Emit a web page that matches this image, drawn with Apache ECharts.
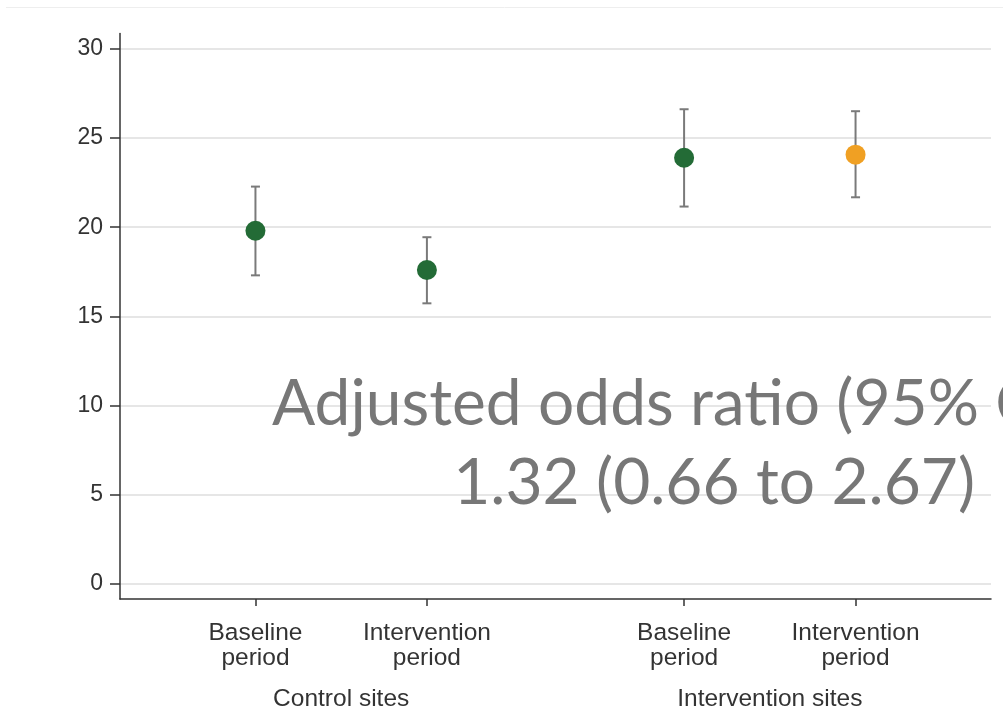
<!DOCTYPE html>
<html>
<head>
<meta charset="utf-8">
<script src="https://cdn.jsdelivr.net/npm/echarts@6/dist/echarts.min.js"></script>
<style>
  html, body { margin: 0; padding: 0; background: #ffffff; }
  #chart { width: 1003px; height: 721px; }
</style>
</head>
<body>
<div id="chart"></div>
<script>
// Period labels under each tick, and the site group under each pair
const periods = ['Baseline\nperiod', 'Intervention\nperiod', 'Baseline\nperiod', 'Intervention\nperiod'];
const periodPos = [1, 2, 3.5, 4.5];
const groups = ['Control sites', 'Intervention sites'];
const groupPos = [1.5, 4];

// Estimates with 95% confidence limits
const estimate = [19.8, 17.6, 23.9, 24.07];
const lower = [17.3, 15.73, 21.16, 21.68];
const upper = [22.28, 19.44, 26.62, 26.51];

const yTicks = [0, 5, 10, 15, 20, 25, 30];
const noteLine1 = 'Adjusted odds ratio (95% CI)';
const noteLine2 = '1.32 (0.66 to 2.67)';

const GREEN = '#236b36';
const ORANGE = '#f0a023';
const pointColors = [GREEN, GREEN, GREEN, ORANGE];

const chart = echarts.init(document.getElementById('chart'), null, { renderer: 'canvas' });

const labelFont = 'Liberation Sans, Arial, Helvetica, sans-serif';

const pointData = periodPos.map((x, i) => ({
  value: [x, estimate[i]],
  itemStyle: { color: pointColors[i] }
}));
const barData = periodPos.map((x, i) => [x, lower[i], upper[i]]);

const option = {
  animation: false,
  backgroundColor: '#ffffff',
  grid: { left: 120, right: 12, top: 33.5, bottom: 122 },
  xAxis: [
    {
      type: 'value',
      min: 0.21,
      max: 5.29,
      position: 'bottom',
      axisLine: { show: true, onZero: false, lineStyle: { color: '#333333', width: 1.5 } },
      axisTick: {
        show: true, length: 7, inside: false,
        customValues: periodPos,
        lineStyle: { color: '#333333', width: 1.5 }
      },
      axisLabel: {
        customValues: periodPos,
        margin: 22,
        color: '#333333',
        fontFamily: labelFont,
        fontSize: 24.5,
        lineHeight: 25,
        align: 'center',
        formatter: (v) => periods[periodPos.indexOf(v)] || ''
      },
      splitLine: { show: false }
    },
    {
      type: 'value',
      min: 0.21,
      max: 5.29,
      position: 'bottom',
      offset: 0,
      axisLine: { show: false, onZero: false },
      axisTick: { show: false },
      axisLabel: {
        customValues: groupPos,
        margin: 88,
        color: '#333333',
        fontFamily: labelFont,
        fontSize: 24.5,
        formatter: (v) => groups[groupPos.indexOf(v)] || ''
      },
      splitLine: { show: false }
    }
  ],
  yAxis: {
    type: 'value',
    min: -0.86,
    max: 30.87,
    axisLine: { show: true, onZero: false, lineStyle: { color: '#333333', width: 1.5 } },
    axisTick: {
      show: true, length: 10, inside: false,
      customValues: yTicks,
      lineStyle: { color: '#333333', width: 1.5 }
    },
    axisLabel: {
      customValues: yTicks,
      margin: 17,
      color: '#333333',
      fontFamily: labelFont,
      fontSize: 23
    },
    splitLine: { show: true, lineStyle: { color: '#dedede', width: 1.6 } }
  },
  series: [
    {
      // confidence interval whiskers with end caps
      type: 'custom',
      xAxisIndex: 0,
      z: 2,
      data: barData,
      renderItem: (params, api) => {
        const x = api.value(0);
        const lo = api.coord([x, api.value(1)]);
        const hi = api.coord([x, api.value(2)]);
        const cap = 4.5;
        const style = { stroke: '#7a7a7a', lineWidth: 2, fill: null };
        return {
          type: 'group',
          children: [
            { type: 'line', shape: { x1: lo[0], y1: lo[1], x2: hi[0], y2: hi[1] }, style },
            { type: 'line', shape: { x1: hi[0] - cap, y1: hi[1], x2: hi[0] + cap, y2: hi[1] }, style },
            { type: 'line', shape: { x1: lo[0] - cap, y1: lo[1], x2: lo[0] + cap, y2: lo[1] }, style }
          ]
        };
      }
    },
    {
      type: 'scatter',
      xAxisIndex: 0,
      z: 3,
      symbol: 'circle',
      symbolSize: 20,
      itemStyle: { opacity: 1 },
      data: pointData
    }
  ],
  graphic: [
    {
      type: 'line',
      shape: { x1: 6, y1: 7.5, x2: 1003, y2: 7.5 },
      style: { stroke: '#eeeeee', lineWidth: 1 },
      silent: true
    },
    {
      type: 'text',
      left: 272,
      top: 372,
      z: 10,
      style: {
        text: noteLine1,
        fill: '#777777',
        font: '400 64px Lato, "Open Sans", sans-serif'
      }
    },
    {
      type: 'text',
      right: 28,
      top: 451,
      z: 10,
      style: {
        text: noteLine2,
        fill: '#777777',
        font: '400 64px Lato, "Open Sans", sans-serif'
      }
    }
  ]
};

chart.setOption(option);
</script>
</body>
</html>
